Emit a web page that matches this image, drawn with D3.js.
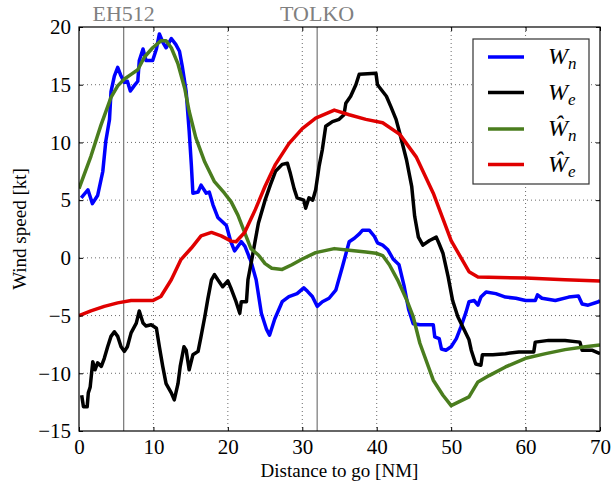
<!DOCTYPE html>
<html>
<head>
<meta charset="utf-8">
<script src="https://cdn.jsdelivr.net/npm/d3@7"></script>
<style>
  body { margin: 0; background: #fff; }
</style>
</head>
<body>
<div id="chart"></div>
<script>
// Chart size and plot margins
var W = 611, H = 487;
var margin = {top: 27, right: 11, bottom: 56, left: 79};
var w = W - margin.left - margin.right;
var h = H - margin.top - margin.bottom;
var serif = "'Liberation Serif', 'DejaVu Serif', serif";

// Axis ticks
var xTicks = [0, 10, 20, 30, 40, 50, 60, 70];
var yTicks = [-15, -10, -5, 0, 5, 10, 15, 20];

// Waypoints (distance to go, name)
var waypointDist = [6, 32];
var waypointName = ["EH512", "TOLKO"];

// Measured north wind Wn
var wnDist = [0.3, 1.2, 1.8, 2.5, 3.2, 3.6, 4.1, 4.3, 4.75, 5.2, 5.65, 6.1, 6.5, 6.9, 7.4, 7.9, 8.1, 8.6, 9.0, 9.9,
  10.4, 10.8, 11.25, 11.7, 12.4, 13.0, 13.5, 13.9, 14.4, 14.8, 15.1, 15.3, 16.0, 16.4, 17.1, 17.5, 18.0, 18.65, 19.8, 20.4,
  20.9, 21.8, 22.3, 23.1, 23.8, 24.5, 25.2, 25.6, 26.3, 27.3, 28.2, 29.3, 30.2, 30.7, 31.35, 32.0, 32.7, 33.6, 34.5, 35.4,
  36.3, 37.0, 37.7, 38.1, 39.0, 39.7, 40.1, 40.8, 41.5, 42.2, 43.0, 43.7, 44.3, 44.9, 45.8, 47.6, 47.8, 48.4, 48.7, 49.3,
  50.0, 50.7, 51.3, 52.0, 52.4, 53.1, 53.6, 54.0, 54.7, 56.0, 57.3, 58.7, 60.0, 61.3, 61.6, 62.2, 64.0, 65.8, 67.1, 67.6,
  68.4, 69.8, 70];
var wnVal = [5.2, 5.9, 4.7, 5.4, 7.5, 10.1, 12.0, 14.4, 15.75, 16.5, 15.75, 15.2, 15.3, 14.45, 14.9, 15.3, 17.1, 18.1, 17.1, 17.1,
  18.1, 19.4, 18.7, 18.2, 19.0, 18.5, 17.9, 16.5, 14.4, 11.0, 8.0, 5.6, 5.7, 6.3, 5.6, 5.7, 4.6, 3.5, 2.8, 1.4,
  0.6, 1.4, 1.0, -0.3, -1.9, -4.8, -6.2, -6.7, -5.3, -3.8, -3.35, -3.1, -2.6, -2.9, -3.35, -4.2, -3.8, -3.5, -2.8, -0.75,
  1.4, 1.7, 2.1, 2.4, 2.4, 1.85, 1.3, 1.1, 0.7, -0.1, -0.6, -2.5, -4.5, -5.7, -5.8, -5.8, -6.85, -7.0, -7.9, -8.0,
  -7.7, -7.0, -6.0, -4.7, -3.8, -3.7, -4.1, -3.4, -2.95, -3.1, -3.4, -3.5, -3.7, -3.7, -3.2, -3.5, -3.7, -3.4, -3.3, -4.0,
  -4.1, -3.8, -3.7];

// Measured east wind We
var weDist = [0.36, 0.6, 1.1, 1.25, 1.5, 1.85, 2.15, 2.5, 3.0, 3.4, 3.85, 4.3, 4.75, 5.2, 5.65, 6.1, 6.5, 7.0, 7.7, 8.1,
  8.6, 9.0, 9.7, 10.4, 10.8, 11.25, 11.7, 12.4, 12.8, 13.3, 13.6, 14.1, 14.4, 14.8, 15.3, 16.0, 16.4, 16.9, 17.3, 17.8,
  18.2, 18.65, 19.3, 20.0, 20.4, 21.1, 21.6, 21.8, 22.5, 22.7, 23.2, 24.1, 25.0, 25.7, 26.4, 27.3, 28.0, 28.4, 28.9, 29.3,
  30.2, 30.45, 30.9, 31.4, 31.8, 32.25, 32.7, 33.15, 34.05, 34.95, 35.6, 35.85, 36.5, 37.2, 37.65, 39.9, 40.1, 41.3, 41.9, 42.6,
  43.1, 44.0, 44.7, 45.1, 45.6, 46.2, 47.1, 48.0, 48.4, 48.9, 49.6, 50.2, 50.9, 51.8, 52.4, 52.7, 53.3, 54.0, 54.2, 55.6,
  57.3, 59.1, 61.1, 61.3, 63.1, 65.3, 67.3, 67.6, 68.9, 70];
var weVal = [-11.9, -12.9, -12.9, -11.7, -11.2, -9.0, -9.7, -9.1, -9.4, -8.7, -7.7, -6.8, -6.4, -6.8, -7.7, -8.1, -7.7, -6.5, -5.65, -4.6,
  -5.65, -5.9, -5.8, -6.1, -7.7, -9.4, -10.9, -11.7, -12.3, -10.9, -9.4, -7.7, -8.0, -9.7, -8.4, -8.1, -6.8, -5.1, -3.6, -1.9,
  -1.45, -1.9, -2.5, -2.0, -2.6, -3.8, -4.8, -3.8, -3.8, -1.9, -0.2, 3.0, 5.0, 6.3, 7.5, 8.1, 8.2, 7.3, 6.0, 5.2,
  5.0, 4.3, 5.2, 5.0, 5.9, 7.9, 9.4, 11.4, 11.8, 12.0, 12.4, 13.4, 14.0, 15.0, 15.9, 16.0, 15.0, 14.0, 13.1, 12.0,
  10.8, 8.5, 6.2, 3.6, 1.8, 1.1, 1.5, 1.8, 1.2, 0.4, -1.65, -3.7, -5.1, -6.3, -7.1, -8.0, -9.2, -9.3, -8.4, -8.4,
  -8.3, -8.15, -8.15, -7.3, -7.15, -7.15, -7.3, -8.0, -8.0, -8.3];

// Estimated north wind (hat Wn)
var wnHatDist = [0, 1.6, 2.95, 4.3, 5.2, 6.1, 7.0, 7.9, 8.8, 9.9, 11.0, 11.7, 12.4, 13.3, 14.2, 14.8, 15.7, 16.9, 18.2, 19.55,
  20.45, 21.35, 22.25, 23.1, 24.1, 25.0, 25.9, 27.3, 28.6, 30.0, 31.8, 34.3, 36.3, 38.55, 39.9, 40.8, 41.7, 42.8, 44.0, 44.9,
  45.8, 47.6, 48.9, 50.0, 52.4, 53.6, 55.1, 57.3, 60.0, 62.7, 65.3, 68.0, 70];
var wnHatVal = [6.0, 8.8, 11.5, 13.9, 14.9, 15.5, 15.9, 16.3, 17.4, 18.2, 18.8, 18.8, 18.2, 16.8, 14.7, 12.7, 10.4, 8.3, 6.6, 5.6,
  4.85, 3.7, 2.2, 0.8, 0.25, -0.5, -0.9, -1.0, -0.6, -0.1, 0.45, 0.8, 0.65, 0.5, 0.4, 0.2, -0.6, -1.9, -3.6, -5.1,
  -7.4, -10.6, -11.9, -12.8, -12.05, -10.75, -10.2, -9.45, -8.7, -8.3, -7.95, -7.7, -7.55];

// Estimated east wind (hat We)
var weHatDist = [0, 1.6, 3.4, 5.2, 7.0, 9.9, 11.0, 12.4, 13.7, 15.1, 16.4, 17.8, 19.1, 20.45, 21.1, 22.25, 23.7, 25.0, 26.4, 28.2,
  30.0, 31.8, 34.3, 36.3, 38.55, 40.8, 43.1, 45.3, 47.6, 50.0, 52.4, 53.6, 60.0, 65.3, 70];
var weHatVal = [-5.0, -4.6, -4.2, -3.9, -3.7, -3.7, -3.35, -1.9, -0.15, 0.85, 1.9, 2.2, 1.9, 1.45, 1.4, 2.2, 4.2, 6.2, 8.1, 9.9,
  11.2, 12.1, 12.8, 12.4, 12.0, 11.7, 10.7, 8.75, 5.6, 1.5, -1.2, -1.65, -1.75, -1.9, -2.0];

// Series list (legend order)
var seriesLabel = [["W", "n"], ["W", "e"], ["Ŵ", "n"], ["Ŵ", "e"]];
var seriesColor = ["#0000ff", "#000000", "#4a7d1e", "#e00000"];
var seriesDist = [wnDist, weDist, wnHatDist, weHatDist];
var seriesVal = [wnVal, weVal, wnHatVal, weHatVal];

var svg = d3.select("#chart").append("svg")
    .attr("width", W)
    .attr("height", H);

var g = svg.append("g")
    .attr("transform", "translate(" + margin.left + "," + margin.top + ")");

var x = d3.scaleLinear().domain([0, 70]).range([0, w]);
var y = d3.scaleLinear().domain([-15, 20]).range([h, 0]);

// Dotted grid
g.append("g").selectAll("line.gx")
    .data(xTicks.slice(1, -1)).enter().append("line")
    .attr("x1", function(d) { return x(d); }).attr("x2", function(d) { return x(d); })
    .attr("y1", 0).attr("y2", h)
    .attr("stroke", "#444").attr("stroke-width", 0.8).attr("stroke-dasharray", "1,3");
g.append("g").selectAll("line.gy")
    .data(yTicks.slice(1, -1)).enter().append("line")
    .attr("x1", 0).attr("x2", w)
    .attr("y1", function(d) { return y(d); }).attr("y2", function(d) { return y(d); })
    .attr("stroke", "#444").attr("stroke-width", 0.8).attr("stroke-dasharray", "1,3");

// Waypoint markers
waypointDist.forEach(function(d, i) {
    g.append("line")
        .attr("x1", x(d)).attr("x2", x(d))
        .attr("y1", 0).attr("y2", h)
        .attr("stroke", "#808080").attr("stroke-width", 1.3);
    g.append("text")
        .attr("x", x(d)).attr("y", -6)
        .attr("text-anchor", "middle")
        .attr("fill", "#808080")
        .attr("font-size", "22px")
        .text(waypointName[i]);
});

// Clip for the lines
svg.append("defs").append("clipPath").attr("id", "clip")
    .append("rect").attr("width", w).attr("height", h);

var line = d3.line()
    .x(function(d) { return x(d[0]); })
    .y(function(d) { return y(d[1]); });

var lines = g.append("g").attr("clip-path", "url(#clip)");
seriesDist.forEach(function(dist, i) {
    var pts = dist.map(function(d, j) { return [d, seriesVal[i][j]]; });
    lines.append("path")
        .datum(pts)
        .attr("fill", "none")
        .attr("stroke", seriesColor[i])
        .attr("stroke-width", 3.5)
        .attr("stroke-linejoin", "round")
        .attr("d", line);
});

// Axes with inward ticks on all four sides
var axisStyle = function(sel) {
    sel.select(".domain").remove();
    sel.selectAll("line").attr("stroke", "#000");
    sel.selectAll("text").attr("fill", "#000").style("font-size", "21px");
};
g.append("g").attr("transform", "translate(0," + h + ")")
    .call(d3.axisBottom(x).tickValues(xTicks).tickSizeInner(-4).tickSizeOuter(0).tickPadding(8))
    .call(axisStyle);
g.append("g")
    .call(d3.axisLeft(y).tickValues(yTicks).tickSizeInner(-4).tickSizeOuter(0).tickPadding(8))
    .call(axisStyle);
g.append("g")
    .call(d3.axisTop(x).tickValues(xTicks).tickSizeInner(-4).tickSizeOuter(0).tickFormat(""))
    .call(axisStyle);
g.append("g").attr("transform", "translate(" + w + ",0)")
    .call(d3.axisRight(y).tickValues(yTicks).tickSizeInner(-4).tickSizeOuter(0).tickFormat(""))
    .call(axisStyle);

// Frame
g.append("rect")
    .attr("width", w).attr("height", h)
    .attr("fill", "none").attr("stroke", "#000").attr("stroke-width", 1.2);

// Axis labels
svg.append("text")
    .attr("x", margin.left + w / 2).attr("y", 477)
    .attr("text-anchor", "middle")
    .attr("font-size", "19px")
    .text("Distance to go [NM]");
svg.append("text")
    .attr("transform", "translate(26," + (margin.top + h / 2) + ") rotate(-90)")
    .attr("text-anchor", "middle")
    .attr("font-size", "19px")
    .text("Wind speed [kt]");

// Legend
var legend = g.append("g").attr("transform", "translate(" + (473 - margin.left) + "," + (39 - margin.top) + ")");
legend.append("rect")
    .attr("width", 116).attr("height", 145)
    .attr("fill", "#fff").attr("stroke", "#333").attr("stroke-width", 1.2);
seriesLabel.forEach(function(lab, i) {
    var ly = 18 + i * 35.5 + (i > 1 ? 1 : 0);
    legend.append("line")
        .attr("x1", 15).attr("x2", 51)
        .attr("y1", ly).attr("y2", ly)
        .attr("stroke", seriesColor[i]).attr("stroke-width", 3.5);
    var t = legend.append("text")
        .attr("x", 75).attr("y", ly + 7)
        .attr("font-size", "24px")
        .attr("font-style", "italic");
    t.append("tspan").text(lab[0]);
    t.append("tspan").attr("font-size", "17px").attr("dy", 5).text(lab[1]);
});

// Serif font everywhere (inline style wins over the axis defaults)
svg.selectAll("text").style("font-family", serif);
</script>
</body>
</html>
